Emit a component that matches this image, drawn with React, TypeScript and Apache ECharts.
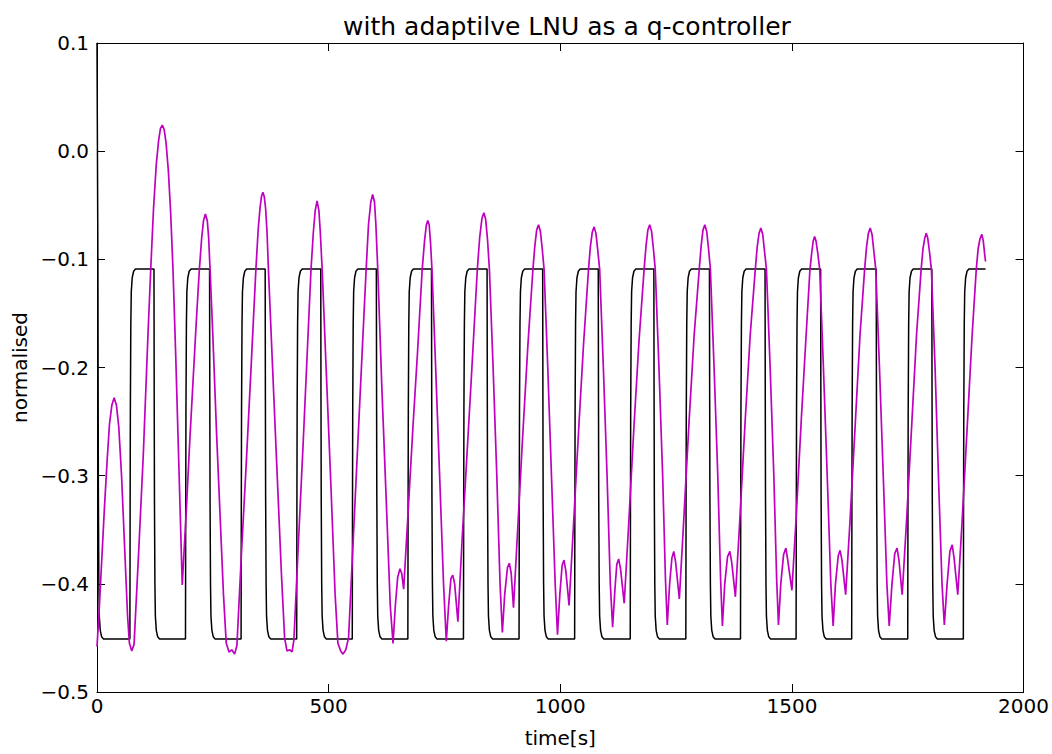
import React, { useEffect, useRef } from "react";
import * as echarts from "echarts";

// ---- data ----
const titleText = "with adaptilve LNU as a q-controller";
const xName = "time[s]";
const yName = "normalised";

const xMin = 0;
const xMax = 2000;
const xInterval = 500;
const yMin = -0.5;
const yMax = 0.1;
const yInterval = 0.1;

// black reference (square wave): edge times [s] and levels
const blackStart: [number, number] = [0, 0.1];
const blackFallTimes = [2, 123, 243, 363, 483, 603, 722, 842, 962, 1082, 1202, 1322, 1442, 1562, 1682, 1802];
const blackRiseTimes = [71, 191, 311, 431, 551, 671, 791, 911, 1031, 1151, 1271, 1389, 1509, 1629, 1750, 1870];
const blackEnd: [number, number] = [1918, -0.109];
// edge shapes as read (offset in s, level)
const riseShape: [number, number][] = [
  [0, -0.451], [0.5, -0.33], [1, -0.24], [2, -0.16], [3, -0.13], [5, -0.117], [8, -0.111], [12, -0.109],
];
const fallShape: [number, number][] = [
  [0, -0.109], [0.5, -0.23], [1, -0.32], [2, -0.4], [3, -0.43], [5, -0.443], [8, -0.449], [12, -0.451],
];

// magenta process output [t, value]
const magentaPoints: [number, number][] = [
  [0, -0.458], [4, -0.43], [10, -0.38], [16, -0.33], [22, -0.285], [27, -0.252], [32, -0.235], [37, -0.228],
  [42, -0.235], [47, -0.255], [53, -0.3], [60, -0.37], [66, -0.43], [70, -0.455], [75, -0.462], [80, -0.456],
  [90, -0.37], [100, -0.28], [110, -0.17], [116, -0.109], [122, -0.053], [128, -0.012], [133, 0.01], [137, 0.021],
  [141, 0.024], [145, 0.02], [149, 0.008], [154, -0.018], [159, -0.057], [164, -0.109], [170, -0.19], [177, -0.295],
  [184, -0.401],
  [193, -0.33], [200, -0.27], [207, -0.215], [214, -0.16], [221, -0.109], [226, -0.08], [230, -0.064], [234, -0.058],
  [238, -0.064], [241, -0.08], [244, -0.109], [250, -0.17], [258, -0.26], [266, -0.34], [273, -0.41], [279, -0.455],
  [285, -0.463], [291, -0.461], [297, -0.465], [302, -0.457],
  [312, -0.37], [322, -0.29], [332, -0.205], [343, -0.109], [348, -0.072], [352, -0.052], [355, -0.042], [358, -0.038],
  [361, -0.042], [364, -0.053], [367, -0.075], [370, -0.109], [378, -0.19], [388, -0.29], [398, -0.39], [405, -0.45],
  [410, -0.462], [416, -0.461], [421, -0.463], [425, -0.452],
  [435, -0.36], [445, -0.27], [455, -0.175], [462, -0.109], [467, -0.075], [471, -0.055], [475, -0.046], [479, -0.055],
  [482, -0.075], [486, -0.109], [495, -0.205], [505, -0.31], [514, -0.41], [520, -0.455], [526, -0.462], [531, -0.465],
  [537, -0.461], [543, -0.45],
  [553, -0.36], [563, -0.27], [573, -0.18], [581, -0.109], [586, -0.068], [591, -0.047], [595, -0.04], [599, -0.047],
  [602, -0.068], [606, -0.109], [615, -0.22], [625, -0.33], [633, -0.42], [639, -0.455], [644, -0.42], [649, -0.394],
  [654, -0.386], [658, -0.391], [662, -0.405],
  [672, -0.33], [682, -0.255], [692, -0.185], [702, -0.109], [707, -0.083], [711, -0.068], [714, -0.064], [717, -0.068],
  [720, -0.085], [723, -0.109], [731, -0.2], [740, -0.305], [748, -0.4], [754, -0.453], [759, -0.42], [764, -0.395],
  [768, -0.392], [772, -0.4], [779, -0.435],
  [788, -0.36], [798, -0.285], [808, -0.21], [821, -0.109], [826, -0.08], [831, -0.062], [835, -0.057], [839, -0.063],
  [843, -0.082], [847, -0.109], [855, -0.2], [863, -0.3], [870, -0.4], [875, -0.445], [880, -0.41], [886, -0.385],
  [890, -0.381], [894, -0.39], [899, -0.422],
  [908, -0.35], [918, -0.27], [930, -0.18], [941, -0.109], [945, -0.088], [949, -0.073], [953, -0.068], [957, -0.074],
  [961, -0.09], [965, -0.109], [973, -0.2], [981, -0.3], [989, -0.4], [994, -0.447], [999, -0.41], [1004, -0.383],
  [1008, -0.378], [1012, -0.388], [1019, -0.42],
  [1028, -0.35], [1040, -0.255], [1050, -0.18], [1061, -0.109], [1065, -0.088], [1069, -0.075], [1073, -0.07], [1077, -0.076],
  [1081, -0.092], [1085, -0.109], [1093, -0.2], [1101, -0.3], [1108, -0.4], [1113, -0.44], [1118, -0.405], [1122, -0.382],
  [1126, -0.377], [1130, -0.386], [1138, -0.418],
  [1147, -0.35], [1159, -0.255], [1170, -0.175], [1181, -0.109], [1185, -0.088], [1189, -0.073], [1193, -0.068], [1197, -0.074],
  [1201, -0.09], [1205, -0.109], [1213, -0.2], [1221, -0.3], [1227, -0.395], [1231, -0.438], [1236, -0.4], [1241, -0.376],
  [1245, -0.37], [1249, -0.38], [1257, -0.414],
  [1266, -0.345], [1278, -0.25], [1289, -0.17], [1300, -0.109], [1304, -0.088], [1308, -0.073], [1312, -0.068], [1316, -0.074],
  [1320, -0.09], [1324, -0.109], [1332, -0.2], [1340, -0.3], [1346, -0.395], [1350, -0.439], [1355, -0.4], [1361, -0.375],
  [1366, -0.37], [1370, -0.38], [1378, -0.412],
  [1387, -0.345], [1399, -0.25], [1410, -0.17], [1421, -0.109], [1425, -0.089], [1429, -0.076], [1433, -0.071], [1437, -0.077],
  [1441, -0.093], [1445, -0.109], [1453, -0.2], [1461, -0.3], [1467, -0.395], [1471, -0.438], [1476, -0.4], [1482, -0.373],
  [1487, -0.367], [1491, -0.378], [1500, -0.406],
  [1509, -0.34], [1520, -0.25], [1530, -0.175], [1539, -0.109], [1543, -0.093], [1546, -0.083], [1549, -0.079], [1552, -0.083],
  [1556, -0.095], [1560, -0.109], [1568, -0.2], [1577, -0.31], [1584, -0.4], [1589, -0.439], [1594, -0.4], [1600, -0.374],
  [1604, -0.369], [1608, -0.378], [1616, -0.41],
  [1625, -0.345], [1637, -0.25], [1647, -0.17], [1657, -0.109], [1661, -0.089], [1665, -0.076], [1669, -0.071], [1673, -0.077],
  [1677, -0.093], [1681, -0.109], [1689, -0.2], [1698, -0.31], [1705, -0.4], [1710, -0.439], [1716, -0.4], [1722, -0.372],
  [1727, -0.367], [1731, -0.378], [1738, -0.41],
  [1747, -0.345], [1759, -0.25], [1769, -0.17], [1779, -0.109], [1783, -0.09], [1787, -0.08], [1790, -0.076], [1793, -0.08],
  [1797, -0.093], [1801, -0.109], [1809, -0.2], [1817, -0.31], [1824, -0.4], [1829, -0.438], [1835, -0.4], [1841, -0.37],
  [1846, -0.364], [1850, -0.376], [1858, -0.41],
  [1867, -0.345], [1879, -0.25], [1889, -0.17], [1898, -0.109], [1902, -0.09], [1906, -0.081], [1910, -0.077], [1913, -0.083],
  [1916, -0.095], [1918, -0.102],
];

const magentaColor = "#bf00bf";
const blackColor = "#000000";

function buildBlack(): [number, number][] {
  const pts: [number, number][] = [blackStart];
  for (let i = 0; i < blackFallTimes.length; i++) {
    const f = blackFallTimes[i];
    fallShape.forEach(([dt, v]) => pts.push([f + dt, v]));
    const r = blackRiseTimes[i];
    if (r !== undefined) riseShape.forEach(([dt, v]) => pts.push([r + dt, v]));
  }
  pts.push(blackEnd);
  return pts;
}

const fmtY = (v: number) => {
  const s = Math.abs(v) < 1e-9 ? "0.0" : Math.abs(v).toFixed(1);
  return v < -1e-9 ? "\u2212" + s : s;
};
const fmtX = (v: number) => String(Math.round(v));

export default function App() {
  const ref = useRef<HTMLDivElement>(null);
  useEffect(() => {
    if (!ref.current) return;
    const chart = echarts.init(ref.current, undefined, { renderer: "svg" });
    const font = "DejaVu Sans";
    const axisCommon = {
      axisLine: { show: true, onZero: false, lineStyle: { color: "#000", width: 1 } },
      axisTick: { show: true, inside: true, length: 8, lineStyle: { color: "#000", width: 1 } },
      splitLine: { show: false },
    };
    chart.setOption({
      animation: false,
      backgroundColor: "#ffffff",
      title: {
        text: titleText,
        left: 562,
        textAlign: "center",
        top: 9,
        textStyle: { fontFamily: font, fontSize: 25, fontWeight: "normal", color: "#000" },
      },
      grid: { left: 97, right: 25, top: 43, bottom: 62, containLabel: false },
      xAxis: [
        {
          type: "value",
          min: xMin,
          max: xMax,
          interval: xInterval,
          position: "bottom",
          name: xName,
          nameLocation: "middle",
          nameGap: 36,
          nameTextStyle: { fontFamily: font, fontSize: 20, color: "#000" },
          axisLabel: { fontFamily: font, fontSize: 20, color: "#000", margin: 4, formatter: fmtX },
          ...axisCommon,
        },
        {
          type: "value",
          min: xMin,
          max: xMax,
          interval: xInterval,
          position: "top",
          axisLabel: { show: false },
          ...axisCommon,
        },
      ],
      yAxis: [
        {
          type: "value",
          min: yMin,
          max: yMax,
          interval: yInterval,
          position: "left",
          name: yName,
          nameLocation: "middle",
          nameGap: 66,
          nameRotate: 90,
          nameTextStyle: { fontFamily: font, fontSize: 20, color: "#000" },
          axisLabel: { fontFamily: font, fontSize: 20, color: "#000", margin: 8, formatter: fmtY },
          ...axisCommon,
        },
        {
          type: "value",
          min: yMin,
          max: yMax,
          interval: yInterval,
          position: "right",
          axisLabel: { show: false },
          ...axisCommon,
        },
      ],
      series: [
        {
          type: "line",
          name: "reference",
          data: buildBlack(),
          showSymbol: false,
          symbol: "none",
          lineStyle: { color: blackColor, width: 1.5 },
          clip: true,
          z: 2,
        },
        {
          type: "line",
          name: "output",
          data: magentaPoints,
          showSymbol: false,
          symbol: "none",
          lineStyle: { color: magentaColor, width: 1.7 },
          clip: true,
          z: 3,
        },
      ],
    });
    return () => chart.dispose();
  }, []);
  return (
    <div
      ref={ref}
      style={{ position: "fixed", left: 0, top: 0, width: 1052, height: 754, background: "#fff" }}
    />
  );
}
